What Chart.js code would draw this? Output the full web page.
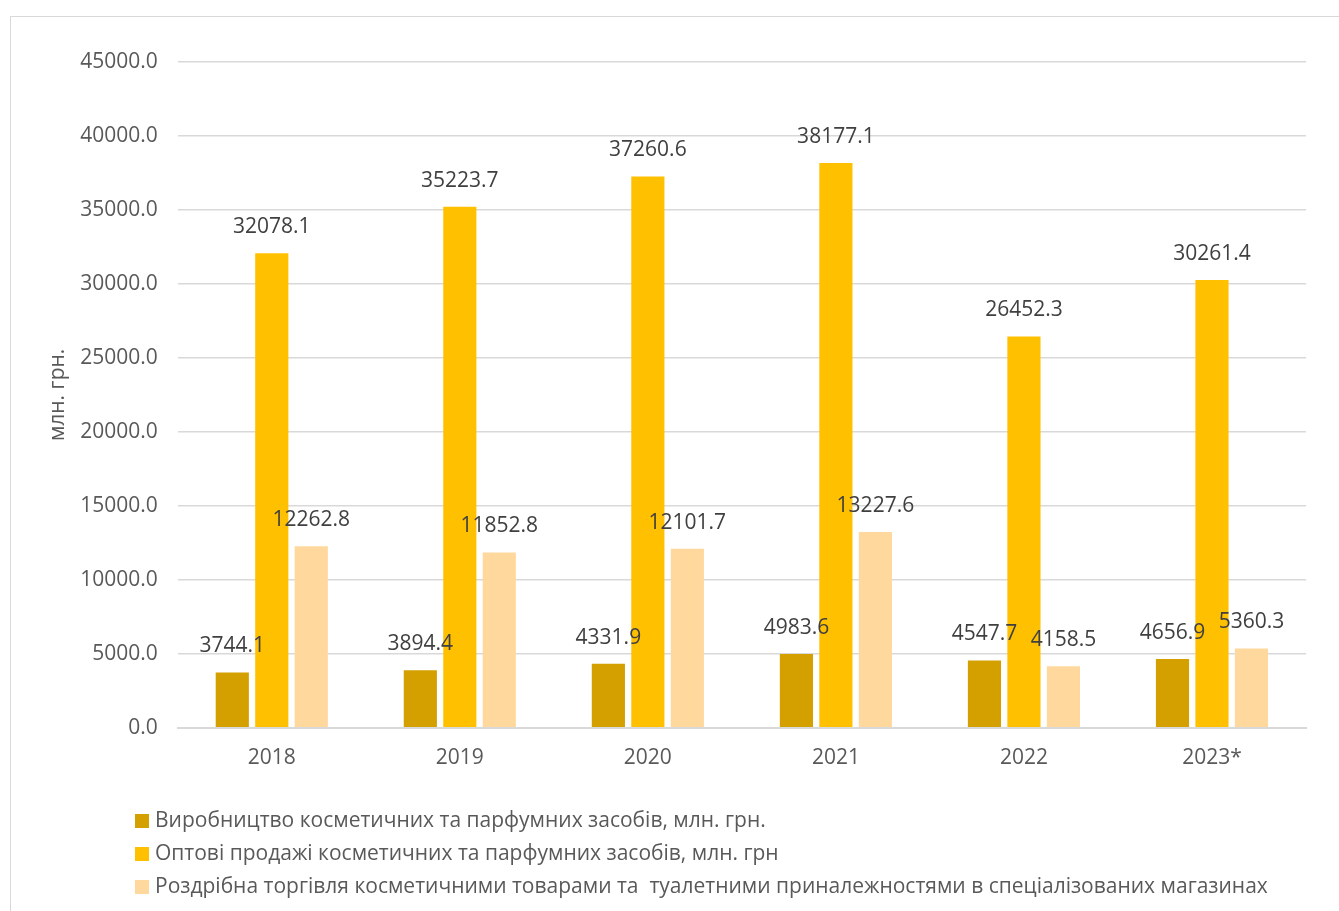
<!DOCTYPE html>
<html>
<head>
<meta charset="utf-8">
<script src="https://cdn.jsdelivr.net/npm/chart.js@4.4.1/dist/chart.umd.min.js"></script>
<style>
  body { margin: 0; background: #fff; }
  #frame { position: absolute; left: 10px; top: 16px; width: 1340px; height: 900px; border: 1px solid #d9d9d9; }
  #wrap { position: absolute; left: 0; top: 0; width: 1339px; height: 911px; }
</style>
</head>
<body>
<div id="frame"></div>
<div id="wrap"><canvas id="chart"></canvas></div>
<script>
const years = ['2018', '2019', '2020', '2021', '2022', '2023*'];
const production = [3744.1, 3894.4, 4331.9, 4983.6, 4547.7, 4656.9];
const wholesale = [32078.1, 35223.7, 37260.6, 38177.1, 26452.3, 30261.4];
const retail = [12262.8, 11852.8, 12101.7, 13227.6, 4158.5, 5360.3];
const seriesNames = [
  'Виробництво косметичних та парфумних засобів, млн. грн.',
  'Оптові продажі косметичних та парфумних засобів, млн. грн',
  'Роздрібна торгівля косметичними товарами та  туалетними приналежностями в спеціалізованих магазинах',
];
const colors = ['#d4a000', '#ffc000', '#ffd89e'];

const FONT = '"Open Sans", sans-serif';
const TEXT = '#595959';

// value labels above each bar
const valueLabels = {
  id: 'valueLabels',
  afterDatasetsDraw(chart) {
    const ctx = chart.ctx;
    ctx.save();
    ctx.font = '21px ' + FONT;
    ctx.fillStyle = '#404040';
    ctx.textAlign = 'center';
    ctx.textBaseline = 'middle';
    chart.data.datasets.forEach((ds, i) => {
      chart.getDatasetMeta(i).data.forEach((bar, j) => {
        ctx.fillText(ds.data[j].toFixed(1), bar.x, bar.y - 26);
      });
    });
    ctx.restore();
  },
};

// legend stacked in rows under the axis
const rowLegend = {
  id: 'rowLegend',
  afterDraw(chart) {
    const ctx = chart.ctx;
    ctx.save();
    ctx.font = '21px ' + FONT;
    ctx.textBaseline = 'middle';
    chart.data.datasets.forEach((ds, i) => {
      const y = 821 + i * 33;
      ctx.fillStyle = ds.backgroundColor;
      ctx.fillRect(135, y - 7, 14, 14);
      ctx.fillStyle = TEXT;
      ctx.fillText(ds.label, 155, y);
    });
    ctx.restore();
  },
};

new Chart(document.getElementById('chart'), {
  type: 'bar',
  data: {
    labels: years,
    datasets: [
      { label: seriesNames[0], data: production, backgroundColor: colors[0] },
      { label: seriesNames[1], data: wholesale, backgroundColor: colors[1] },
      { label: seriesNames[2], data: retail, backgroundColor: colors[2] },
    ],
  },
  options: {
    responsive: true,
    maintainAspectRatio: false,
    animation: false,
    datasets: { bar: { categoryPercentage: 0.63, barPercentage: 0.84 } },
    layout: { padding: { left: 45, right: 33, top: 62, bottom: 130 } },
    scales: {
      x: {
        grid: { display: false },
        border: { color: '#d9d9d9', width: 2 },
        ticks: { color: TEXT, font: { family: FONT, size: 21 }, padding: 10 },
      },
      y: {
        min: 0,
        max: 45000,
        border: { display: false },
        grid: { color: '#d9d9d9', lineWidth: 1.5, drawTicks: false },
        ticks: {
          stepSize: 5000,
          color: TEXT,
          font: { family: FONT, size: 21 },
          padding: 20,
          callback: (v) => v.toFixed(1),
        },
        title: {
          display: true,
          text: 'млн. грн.',
          color: TEXT,
          font: { family: FONT, size: 21 },
          padding: { top: 0, bottom: -10 },
        },
      },
    },
    plugins: {
      legend: { display: false },
      tooltip: { enabled: false },
    },
  },
  plugins: [valueLabels, rowLegend],
});
</script>
</body>
</html>
